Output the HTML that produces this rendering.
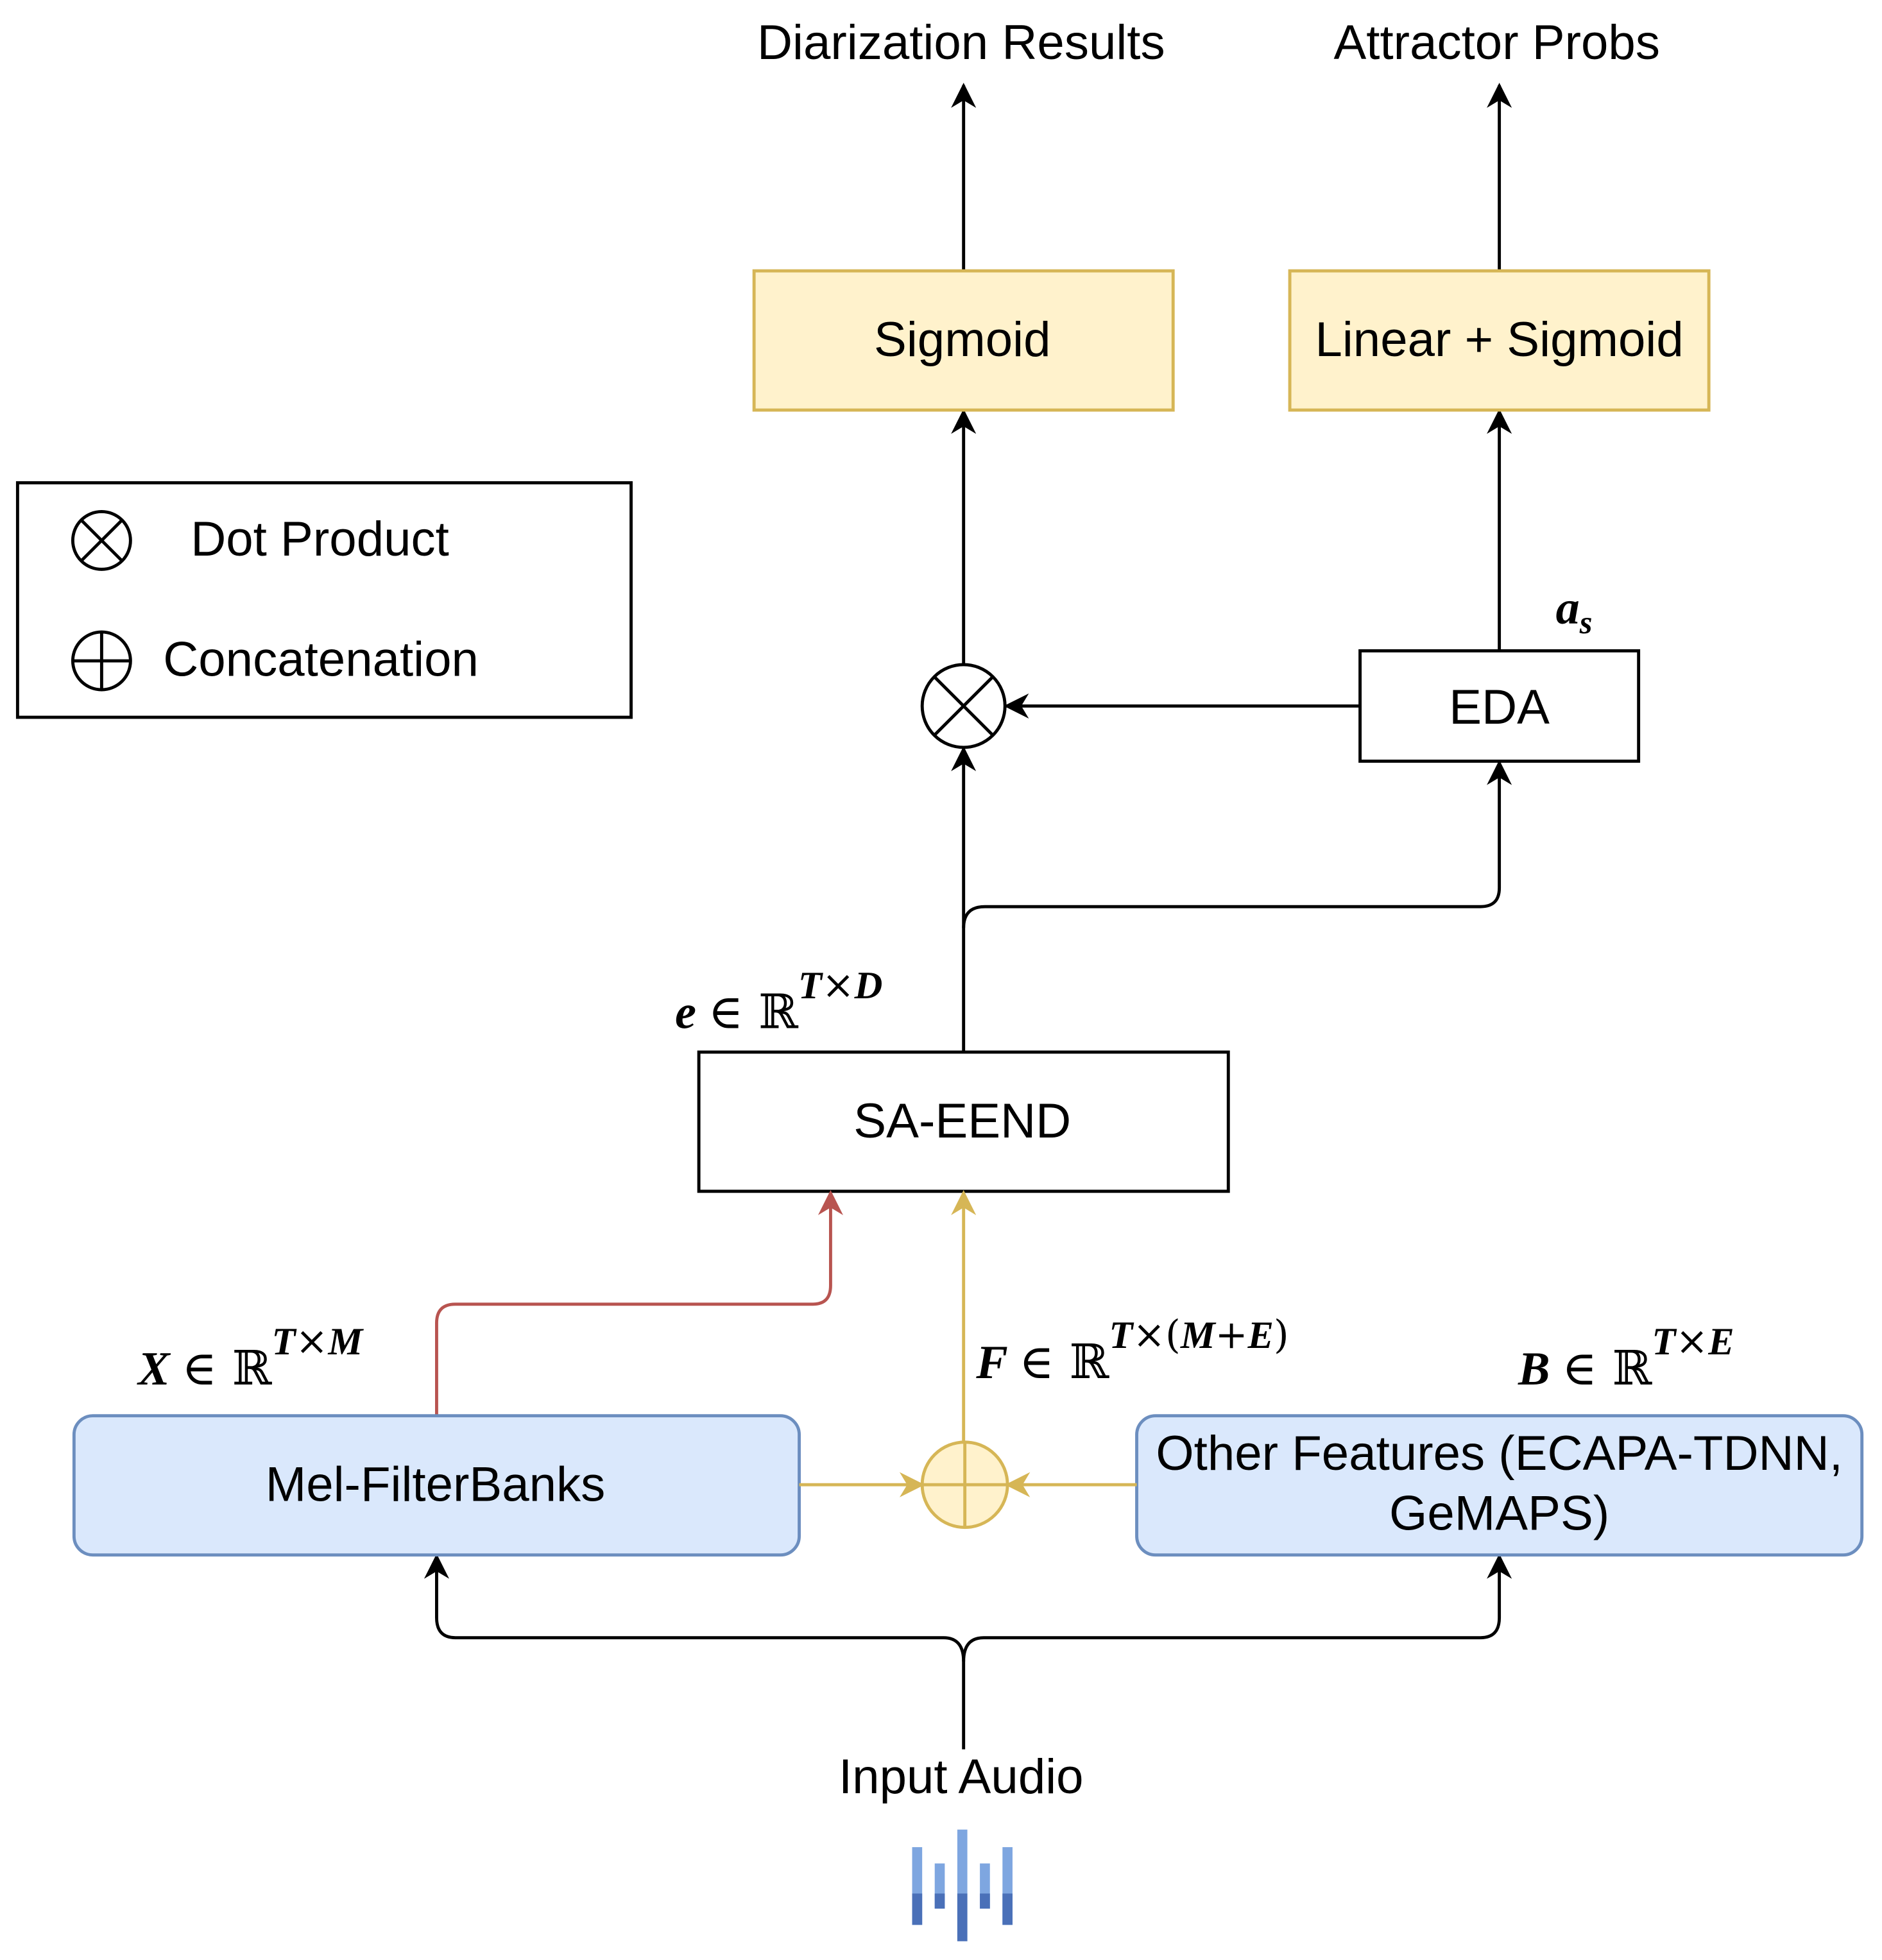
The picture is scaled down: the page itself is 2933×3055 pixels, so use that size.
<!DOCTYPE html>
<html><head><meta charset="utf-8"><style>
html,body{margin:0;padding:0;background:#fff;}
svg{display:block}
text{font-family:"Liberation Sans",sans-serif;}
.m text,.m tspan{font-family:"Liberation Serif",serif;font-style:italic;font-weight:bold;}
.m tspan.r{font-family:"DejaVu Serif","Liberation Serif",serif;font-style:normal;font-weight:normal;}
</style></head><body>
<svg width="2933" height="3055" viewBox="0 0 1500 1563" preserveAspectRatio="none" xmlns="http://www.w3.org/2000/svg">
<defs>
<marker id="ak" viewBox="0 0 10 10" refX="9" refY="5" markerWidth="20" markerHeight="20" orient="auto" markerUnits="userSpaceOnUse"><path d="M0,0 L10,5 L0,10 L3,5 z" fill="#000"/></marker>
<marker id="ar" viewBox="0 0 10 10" refX="9" refY="5" markerWidth="20" markerHeight="20" orient="auto" markerUnits="userSpaceOnUse"><path d="M0,0 L10,5 L0,10 L3,5 z" fill="#b85450"/></marker>
<marker id="ay" viewBox="0 0 10 10" refX="9" refY="5" markerWidth="20" markerHeight="20" orient="auto" markerUnits="userSpaceOnUse"><path d="M0,0 L10,5 L0,10 L3,5 z" fill="#d6b656"/></marker>
</defs>
<g font-size="39" text-anchor="middle" fill="#000">
<text x="766" y="47">Diarization Results</text>
<text x="1193" y="47">Attractor Probs</text>
</g>
<g stroke="#000" stroke-width="2.5" fill="none">
<line x1="768" y1="215" x2="768" y2="68" marker-end="url(#ak)"/>
<line x1="1195" y1="215" x2="1195" y2="68" marker-end="url(#ak)"/>
<line x1="768" y1="530" x2="768" y2="328" marker-end="url(#ak)"/>
<line x1="1195" y1="518" x2="1195" y2="328" marker-end="url(#ak)"/>
<line x1="1084" y1="563" x2="802" y2="563" marker-end="url(#ak)"/>
<line x1="768" y1="838" x2="768" y2="597" marker-end="url(#ak)"/>
<path d="M768,740 Q768,723 785,723 L1180,723 Q1195,723 1195,708 L1195,608" marker-end="url(#ak)"/>
<path d="M768,1395 L768,1325 Q768,1306 752,1306 L363,1306 Q348,1306 348,1290 L348,1241" marker-end="url(#ak)"/>
<path d="M768,1325 Q768,1306 784,1306 L1180,1306 Q1195,1306 1195,1290 L1195,1241" marker-end="url(#ak)"/>
</g>
<rect x="601" y="216" width="334" height="111" fill="#fff2cc" stroke="#d6b656" stroke-width="2.5"/>
<rect x="1028" y="216" width="334" height="111" fill="#fff2cc" stroke="#d6b656" stroke-width="2.5"/>
<rect x="1084" y="519" width="222" height="88" fill="#fff" stroke="#000" stroke-width="2.5"/>
<rect x="557" y="839" width="422" height="111" fill="#fff" stroke="#000" stroke-width="2.5"/>
<rect x="14" y="385" width="489" height="187" fill="#fff" stroke="#000" stroke-width="2.5"/>
<circle cx="768" cy="563" r="33" fill="#fff" stroke="#000" stroke-width="2.5"/>
<path d="M745,540 L791,586 M791,540 L745,586" stroke="#000" stroke-width="2.5"/>
<circle cx="81" cy="431" r="23" fill="#fff" stroke="#000" stroke-width="2.5"/>
<path d="M65,415 L97,447 M97,415 L65,447" stroke="#000" stroke-width="2.5"/>
<circle cx="81" cy="527" r="23" fill="#fff" stroke="#000" stroke-width="2.5"/>
<path d="M58,527 L104,527 M81,504 L81,550" stroke="#000" stroke-width="2.5"/>
<g font-size="39" text-anchor="middle" fill="#000">
<text x="767" y="284">Sigmoid</text>
<text x="1195" y="284">Linear + Sigmoid</text>
<text x="1195" y="577">EDA</text>
<text x="767" y="907">SA-EEND</text>
</g>
<g font-size="39" fill="#000">
<text x="152" y="443">Dot Product</text>
<text x="130" y="539">Concatenation</text>
</g>
<path d="M348,1128 L348,1055 Q348,1040 363,1040 L648,1040 Q662,1040 662,1025 L662,951" stroke="#b85450" stroke-width="2.5" fill="none" marker-end="url(#ar)"/>
<line x1="768" y1="1150" x2="768" y2="951" stroke="#d6b656" stroke-width="2.5" marker-end="url(#ay)"/>
<rect x="59" y="1129" width="578" height="111" rx="15" fill="#dae8fc" stroke="#6c8ebf" stroke-width="2.5"/>
<rect x="906" y="1129" width="578" height="111" rx="15" fill="#dae8fc" stroke="#6c8ebf" stroke-width="2.5"/>
<g font-size="39" text-anchor="middle" fill="#000">
<text x="347" y="1197">Mel-FilterBanks</text>
<text x="1195" y="1172">Other Features (ECAPA-TDNN,</text>
<text x="1195" y="1220">GeMAPS)</text>
<text x="766" y="1430">Input Audio</text>
</g>
<line x1="637" y1="1184" x2="735" y2="1184" stroke="#d6b656" stroke-width="2.5" marker-end="url(#ay)"/>
<line x1="906" y1="1184" x2="803" y2="1184" stroke="#d6b656" stroke-width="2.5" marker-end="url(#ay)"/>
<circle cx="769" cy="1184" r="34" fill="#fff2cc" stroke="#d6b656" stroke-width="2.5"/>
<path d="M735,1184 L803,1184 M769,1150 L769,1218" stroke="#d6b656" stroke-width="2.5"/>
<g font-size="38" class="m" fill="#000">
<text x="1240" y="497">a<tspan font-size="26" dy="8">s</tspan></text>
<text x="538" y="820">e <tspan class="r">∈ ℝ</tspan><tspan font-size="31" dy="-24">T<tspan class="r">×</tspan>D</tspan></text>
<text x="110" y="1104">X <tspan class="r">∈ ℝ</tspan><tspan font-size="31" dy="-24">T<tspan class="r">×</tspan>M</tspan></text>
<text x="778" y="1099">F <tspan class="r">∈ ℝ</tspan><tspan font-size="31" dy="-24">T<tspan class="r">×(</tspan>M<tspan class="r">+</tspan>E<tspan class="r">)</tspan></tspan></text>
<text x="1210" y="1104">B <tspan class="r">∈ ℝ</tspan><tspan font-size="31" dy="-24">T<tspan class="r">×</tspan>E</tspan></text>
</g>
<g>
<rect x="727" y="1473" width="8" height="62" fill="#7ea6e0"/>
<rect x="745" y="1486" width="8" height="36" fill="#7ea6e0"/>
<rect x="763" y="1459" width="8" height="89" fill="#7ea6e0"/>
<rect x="781" y="1486" width="8" height="36" fill="#7ea6e0"/>
<rect x="799" y="1473" width="8" height="62" fill="#7ea6e0"/>
<rect x="727" y="1510" width="8" height="25" fill="#4a70b8"/>
<rect x="745" y="1510" width="8" height="12" fill="#4a70b8"/>
<rect x="763" y="1510" width="8" height="38" fill="#4a70b8"/>
<rect x="781" y="1510" width="8" height="12" fill="#4a70b8"/>
<rect x="799" y="1510" width="8" height="25" fill="#4a70b8"/>
</g>
</svg>
</body></html>
